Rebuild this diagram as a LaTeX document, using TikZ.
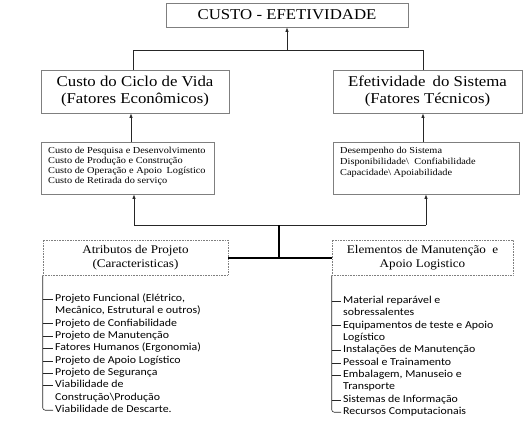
\documentclass[tikz,border=0pt]{standalone}
\usepackage{fontspec}
\setmainfont{Liberation Serif}[FakeStretch=1.12]
\newfontfamily\calibrif{Carlito}[FakeStretch=1.12]
\usetikzlibrary{arrows.meta}
\definecolor{boxgray}{HTML}{7F7F7F}
\definecolor{linec}{HTML}{262626}
\tikzset{
  box/.style={draw=boxgray, line width=0.8pt, inner sep=0pt},
  dotbox/.style={draw=boxgray, line width=0.6pt, densely dotted, inner sep=0pt, align=center,
    minimum height=35pt, font=\fontsize{11.7}{14}\selectfont},
  conn/.style={draw=linec, line width=0.7pt},
  arr/.style={conn, -{Latex[length=4.5pt,width=3.5pt]}},
  thickc/.style={draw=black, line width=2pt},
  det/.style={anchor=west, inner sep=0pt, text height=6pt, text depth=1.8pt,
    font=\fontsize{9.2}{10}\selectfont},
  item/.style={anchor=west, inner sep=2pt, text height=6.5pt, text depth=1.8pt,
    font=\calibrif\fontsize{10.6}{12.4}\selectfont},
  tree/.style={draw=linec, line width=0.6pt}
}
\begin{document}
\begin{tikzpicture}[x=1pt,y=-1pt]
\useasboundingbox (0,0) rectangle (527,424);

% top box
\node[box, minimum width=242pt, minimum height=24pt, font=\fontsize{15}{17}\selectfont] (ce) at (287,15) {CUSTO - EFETIVIDADE};

% second level
\node[box, minimum width=188pt, minimum height=43pt, align=center, font=\fontsize{15}{17}\selectfont] (lcc) at (135,91.5) {Custo do Ciclo de Vida\\(Fatores Econômicos)};
\node[box, minimum width=189pt, minimum height=43pt, align=center, font=\fontsize{15}{17}\selectfont] (es) at (427.5,91.5) {Efetividade\hspace{3pt} do Sistema\\(Fatores Técnicos)};

% detail boxes
\node[box, minimum width=173pt, minimum height=52pt] (lcd) at (127.5,168) {};
\node[det] (ld1) at (48,151) {Custo de Pesquisa e Desenvolvimento};
\node[det] (ld2) at (48,161) {Custo de Produção e Construção};
\node[det] (ld3) at (48,171) {Custo de Operação e Apoio\hspace{2pt} Logístico};
\node[det] (ld4) at (48,181) {Custo de Retirada do serviço};

\node[box, minimum width=186pt, minimum height=52pt] (rcd) at (426,168) {};
\node[det] (rd1) at (340,151) {Desempenho do Sistema};
\node[det] (rd2) at (340,162) {Disponibilidade\textbackslash\hspace{3pt} Confiabilidade};
\node[det] (rd3) at (340,173) {Capacidade\textbackslash\ Apoiabilidade};

% bottom boxes
\node[dotbox, minimum width=185pt] (atr) at (135.5,257.5) {Atributos de Projeto\\(Caracteristicas)};
\node[dotbox, minimum width=181pt] (elm) at (422.5,257.5) {Elementos de Manutenção\hspace{3pt} e\\Apoio Logistico};

% top connectors
\coordinate (t1) at (133,50);
\coordinate (t2) at (423,50);
\draw[conn] (t1 |- lcc.north) -- (t1) -- (t2) -- (t2 |- es.north);
\draw[arr] (ce.south |- t1) -- (ce.south);

\coordinate (a1) at (131,142);
\coordinate (a2) at (423,142);
\draw[arr] (a1) -- (a1 |- lcc.south);
\draw[arr] (a2) -- (a2 |- es.south);

% bottom connectors
\coordinate (b1) at (134,225);
\coordinate (b2) at (426,225);
\coordinate (bm) at (279,225);
\draw[conn] (b1) -- (b2);
\draw[arr] (b1) -- (b1 |- lcd.south);
\draw[arr] (b2) -- (b2 |- rcd.south);
\draw[thickc] (atr.east) -- (elm.west);
\draw[thickc] (bm) -- (bm |- atr.east);

% left list
\node[item] (l1) at (53,299.0) {Projeto Funcional (Elétrico,};
\node[item] (l1b) at (53,311.4) {Mecânico, Estrutural e outros)};
\node[item] (l2) at (53,323.7) {Projeto de Confiabilidade};
\node[item] (l3) at (53,336.0) {Projeto de Manutenção};
\node[item] (l4) at (53,348.4) {Fatores Humanos (Ergonomia)};
\node[item] (l5) at (53,360.8) {Projeto de Apoio Logístico};
\node[item] (l6) at (53,373.1) {Projeto de Segurança};
\node[item] (l7) at (53,385.5) {Viabilidade de};
\node[item] (l7b) at (53,397.8) {Construção\textbackslash Produção};
\node[item] (l8) at (53,410.2) {Viabilidade de Descarte.};
\draw[tree, rounded corners=2.5pt] (atr.south west) |- (l8.west);
\foreach \n in {l1,l2,l3,l4,l5,l6,l7}
  \draw[tree] (\n.west -| atr.west) -- (\n.west);

% right list
\node[item] (r1) at (341,301.0) {Material reparável e};
\node[item] (r1b) at (341,313.4) {sobressalentes};
\node[item] (r2) at (341,325.7) {Equipamentos de teste e Apoio};
\node[item] (r2b) at (341,338.0) {Logístico};
\node[item] (r3) at (341,350.4) {Instalações de Manutenção};
\node[item] (r4) at (341,362.8) {Pessoal e Trainamento};
\node[item] (r5) at (341,375.1) {Embalagem, Manuseio e};
\node[item] (r5b) at (341,387.5) {Transporte};
\node[item] (r6) at (341,399.8) {Sistemas de Informação};
\node[item] (r7) at (341,412.2) {Recursos Computacionais};
\draw[tree, rounded corners=2.5pt] (elm.south west) |- (r7.west);
\foreach \n in {r1,r2,r3,r4,r5,r6}
  \draw[tree] (\n.west -| elm.west) -- (\n.west);
\end{tikzpicture}
\end{document}
